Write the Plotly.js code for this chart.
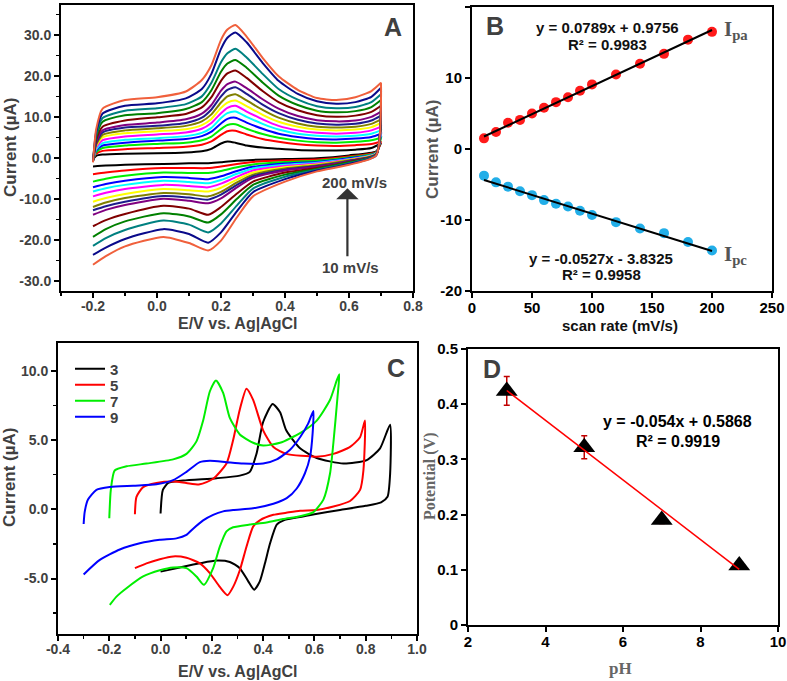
<!DOCTYPE html>
<html><head><meta charset="utf-8">
<script src="https://cdn.plot.ly/plotly-3.0.1.min.js"></script>
<style>html,body{margin:0;padding:0;background:#fff}#chart{width:787px;height:681px}</style>
</head><body><div id="chart"></div>
<script>
// ---------- Panel A : CVs at different scan rates ----------
const cvNames = ['10 mV/s','20 mV/s','30 mV/s','40 mV/s','50 mV/s','60 mV/s','70 mV/s','80 mV/s','90 mV/s','100 mV/s','120 mV/s','140 mV/s','160 mV/s','180 mV/s','200 mV/s'];
const cvColors = ['#000000','#ff0000','#00ee00','#0000ff','#00ffff','#ff00ff','#ffff00','#808000','#1c1c8c','#800080','#800000','#008000','#008080','#0a0a8a','#f0603c'];
const EfA = [-0.2,-0.19,-0.17,-0.1,0.0,0.09,0.14,0.17,0.2,0.22,0.245,0.28,0.33,0.38,0.44,0.5,0.56,0.62,0.67,0.7];
const ErA = [0.7,0.685,0.6,0.5,0.4,0.3,0.25,0.2,0.16,0.1,0.02,-0.1,-0.16,-0.2];
const fwd10  = [-0.3,0.5,0.8,1.0,1.1,1.3,1.6,2.2,3.5,4.0,3.7,3.0,2.5,2.2,1.9,1.8,1.8,2.0,2.4,3.6];
const fwd20  = [-0.4,1.0,1.7,2.1,2.4,2.7,3.2,4.0,5.6,6.5,6.6,5.7,4.6,3.9,3.3,3.0,2.9,3.1,3.4,4.0];
const fwd30  = [-0.5,1.4,2.4,3.0,3.4,3.7,4.3,5.2,7.0,8.0,8.2,7.1,5.8,4.9,4.2,3.8,3.7,3.9,4.3,4.9];
const fwd40  = [-0.5,1.8,3.0,3.7,4.2,4.6,5.3,6.4,8.4,9.5,9.8,8.6,7.1,5.9,5.1,4.6,4.5,4.7,5.1,5.8];
const fwd50  = [-0.6,2.1,3.6,4.4,4.8,5.3,6.1,7.3,9.7,10.9,11.3,10.0,8.3,6.9,5.9,5.4,5.2,5.4,5.9,6.7];
const fwd60  = [-0.6,2.5,4.3,5.2,5.7,6.2,7.1,8.5,10.9,12.2,12.7,11.3,9.4,7.8,6.7,6.1,5.9,6.1,6.7,7.6];
const fwd70  = [-0.7,2.9,5.0,6.0,6.5,7.0,8.0,9.5,12.2,13.5,14.0,12.6,10.5,8.8,7.6,6.9,6.7,6.9,7.5,8.5];
const fwd80  = [-0.7,3.2,5.6,6.7,7.2,7.8,8.9,10.6,13.5,15.0,15.5,14.0,11.7,9.8,8.4,7.6,7.4,7.6,8.3,9.4];
const fwd90  = [-0.8,3.6,6.2,7.4,7.8,8.5,9.8,11.8,15.0,16.6,17.2,15.6,13.0,10.9,9.3,8.4,8.1,8.3,9.1,10.3];
const fwd100 = [-0.8,3.9,6.7,8.0,8.6,9.4,10.8,12.9,16.4,18.0,18.6,17.0,14.3,12.0,10.2,9.2,8.9,9.1,10.0,11.3];
const fwd120 = [-0.9,4.4,7.6,9.1,9.9,10.7,12.3,14.8,18.8,20.6,21.3,19.5,16.3,13.6,11.6,10.4,10.0,10.3,11.2,12.7];
const fwd140 = [-0.9,5.1,8.8,10.4,10.9,11.9,13.6,16.5,21.0,23.0,23.9,22.0,18.4,15.2,12.9,11.5,11.1,11.4,12.4,14.1];
const fwd160 = [-1.0,5.7,9.7,11.5,12.1,13.1,15.0,18.3,23.3,25.5,26.6,24.5,20.5,16.8,14.2,12.6,12.1,12.4,13.6,15.5];
const fwd180 = [-1.0,6.3,10.8,12.7,13.3,14.5,16.8,20.5,26.6,29.3,30.6,28.2,23.2,18.8,15.6,13.8,13.2,13.6,14.9,17.1];
const fwd200 = [-1.1,7.0,12.0,14.1,14.8,16.2,19.0,22.6,28.8,31.3,32.4,29.6,24.4,19.9,16.6,14.6,14.1,14.8,16.3,18.3];
const rev10  = [3.6,1.6,0.6,-0.1,-0.3,-0.5,-0.7,-1.1,-1.3,-1.35,-1.5,-1.7,-1.9,-2.1];
const rev20  = [4.0,1.4,0.3,-0.4,-0.6,-1.0,-1.5,-2.1,-2.5,-2.5,-2.5,-3.1,-3.6,-4.0];
const rev30  = [4.9,1.3,0.1,-0.7,-1.0,-1.6,-2.3,-3.2,-3.7,-3.7,-3.6,-4.4,-5.1,-5.8];
const rev40  = [5.8,1.2,-0.1,-1.0,-1.4,-2.2,-3.2,-4.5,-5.2,-4.9,-4.7,-5.6,-6.4,-7.2];
const rev50  = [6.7,1.1,-0.3,-1.2,-1.7,-2.6,-3.9,-5.4,-6.2,-5.9,-5.6,-6.6,-7.4,-8.2];
const rev60  = [7.6,1.0,-0.4,-1.4,-2.0,-3.1,-4.6,-6.3,-7.2,-6.9,-6.6,-7.6,-8.5,-9.4];
const rev70  = [8.5,1.0,-0.5,-1.6,-2.3,-3.6,-5.3,-7.3,-8.2,-7.9,-7.6,-8.8,-9.8,-10.7];
const rev80  = [9.4,0.9,-0.6,-1.8,-2.6,-4.1,-6.0,-8.3,-9.4,-8.9,-8.6,-9.8,-10.9,-12.0];
const rev90  = [10.3,0.9,-0.75,-2.0,-2.9,-4.5,-6.6,-9.0,-10.2,-9.7,-9.3,-10.7,-11.8,-12.8];
const rev100 = [11.3,0.8,-0.85,-2.2,-3.1,-4.9,-7.2,-9.9,-11.1,-10.5,-10.0,-11.5,-12.7,-13.9];
const rev120 = [12.7,0.8,-1.0,-2.5,-3.6,-5.8,-8.7,-12.0,-13.9,-12.4,-11.7,-13.7,-15.2,-16.7];
const rev140 = [14.1,0.7,-1.1,-2.7,-4.1,-6.6,-10.0,-13.8,-15.8,-14.3,-13.5,-15.5,-17.4,-19.3];
const rev160 = [15.5,0.7,-1.3,-2.9,-4.6,-7.5,-11.6,-16.0,-18.2,-16.3,-15.3,-17.6,-19.6,-21.5];
const rev180 = [17.1,0.6,-1.5,-3.1,-5.2,-8.4,-13.0,-18.2,-20.7,-18.6,-17.4,-19.8,-21.9,-23.7];
const rev200 = [18.3,0.6,-1.7,-3.3,-5.8,-9.4,-14.5,-20.2,-22.6,-20.8,-19.3,-21.6,-24.0,-26.1];
const fwdA = [fwd10,fwd20,fwd30,fwd40,fwd50,fwd60,fwd70,fwd80,fwd90,fwd100,fwd120,fwd140,fwd160,fwd180,fwd200];
const revA = [rev10,rev20,rev30,rev40,rev50,rev60,rev70,rev80,rev90,rev100,rev120,rev140,rev160,rev180,rev200];

// ---------- Panel B : peak currents vs scan rate ----------
const scanRate = [10,20,30,40,50,60,70,80,90,100,120,140,160,180,200];
const Ipa = [1.5,2.4,3.7,4.1,5.0,5.8,6.6,7.3,8.2,9.1,10.5,12.0,13.4,15.4,16.5];
const Ipc = [-3.75,-4.7,-5.3,-5.95,-6.5,-7.2,-7.7,-8.1,-8.7,-9.3,-10.3,-11.2,-11.85,-13.1,-14.3];
const fitRate = [10,200];
const fitIpa = [1.76,16.76];
const fitIpc = [-4.36,-14.37];

// ---------- Panel C : CVs at different pH ----------
const pHNames = ['3','5','7','9'];
const pHColors = ['#000000','#ff0000','#00ee00','#0000ff'];
const cE3 = [0.0,0.009,0.03,0.088,0.218,0.309,0.348,0.374,0.4,0.437,0.466,0.49,0.544,0.609,0.713,0.804,0.856,0.895,
             0.895,0.885,0.86,0.8,0.7,0.6,0.53,0.48,0.453,0.427,0.407,0.387,0.365,0.342,0.309,0.27,0.218,0.153,0.075,0.0];
const cI3 = [-0.3,1.4,1.9,2.07,2.24,2.43,2.7,4.0,6.3,7.6,7.0,5.7,4.4,3.7,3.3,3.55,4.4,6.1,
             2.5,0.9,0.5,0.25,-0.05,-0.35,-0.6,-0.8,-1.1,-2.45,-3.9,-5.2,-5.8,-5.2,-4.25,-3.8,-3.7,-3.9,-4.2,-4.5];
const cE5 = [-0.1,-0.094,-0.068,-0.016,0.05,0.1,0.153,0.205,0.257,0.283,0.309,0.335,0.361,0.4,0.44,0.49,0.609,0.674,0.739,0.778,0.797,
             0.791,0.778,0.739,0.674,0.609,0.544,0.49,0.44,0.387,0.361,0.335,0.309,0.283,0.261,0.231,0.192,0.153,0.101,0.049,-0.003,-0.055,-0.1];
const cI5 = [-0.36,0.9,1.6,1.9,2.0,1.9,1.8,2.2,3.3,5.0,7.2,8.7,7.9,5.7,4.5,4.0,3.8,4.0,4.5,5.2,6.4,
             2.8,1.4,0.6,0.2,-0.05,-0.1,-0.25,-0.4,-0.8,-1.25,-2.7,-4.4,-5.6,-6.2,-5.6,-4.6,-3.9,-3.5,-3.4,-3.6,-3.9,-4.25];
const cE7 = [-0.2,-0.194,-0.179,-0.133,-0.055,0.049,0.101,0.14,0.166,0.192,0.216,0.244,0.27,0.309,0.361,0.4,0.466,0.544,0.609,0.661,0.687,0.697,
             0.69,0.674,0.661,0.635,0.596,0.544,0.478,0.413,0.348,0.283,0.257,0.231,0.205,0.169,0.14,0.101,0.049,-0.003,-0.068,-0.133,-0.172,-0.198];
const cI7 = [-0.65,1.4,2.8,3.1,3.3,3.6,4.0,4.9,6.4,8.5,9.3,8.4,6.6,5.4,4.8,4.6,4.8,5.5,6.4,7.9,9.3,9.75,
             8.1,4.8,2.6,0.7,-0.2,-0.5,-0.7,-0.95,-1.1,-1.3,-1.6,-2.7,-4.25,-5.45,-4.85,-4.25,-4.2,-4.4,-4.85,-5.7,-6.3,-6.9];
const cE9 = [-0.3,-0.296,-0.283,-0.25,-0.198,-0.107,-0.016,0.049,0.101,0.153,0.192,0.257,0.322,0.4,0.453,0.505,0.544,0.576,0.596,
             0.593,0.583,0.563,0.531,0.492,0.44,0.361,0.283,0.244,0.205,0.166,0.127,0.101,0.062,-0.003,-0.081,-0.159,-0.237,-0.3];
const cI9 = [-1.06,-0.2,0.7,1.4,1.6,1.7,1.8,2.1,2.7,3.4,3.5,3.4,3.3,3.3,3.6,4.3,5.2,6.2,7.1,
             5.5,3.8,2.6,1.5,0.8,0.4,0.07,-0.05,-0.15,-0.4,-0.8,-1.4,-1.85,-2.1,-2.2,-2.45,-2.9,-3.65,-4.7];
const cE = [cE3,cE5,cE7,cE9];
const cI = [cI3,cI5,cI7,cI9];

// ---------- Panel D : peak potential vs pH ----------
const pH = [3,5,7,9];
const potential = [0.424,0.322,0.19,0.108];
const potentialErr = [0.026,0.021,0.006,0.006];
const fitPH = [3,9];
const fitPotential = [0.4248,0.1008];

// ---------- tick labels ----------
const tickA_x = [-0.2,0,0.2,0.4,0.6,0.8], tickA_xt = ['-0.2','0.0','0.2','0.4','0.6','0.8'];
const tickA_y = [-30,-20,-10,0,10,20,30], tickA_yt = ['-30.0','-20.0','-10.0','0.0','10.0','20.0','30.0'];
const tickB_y = [-20,-10,0,10,20], tickB_yt = ['-20','-10','0','10','20'];
const tickC_x = [-0.4,-0.2,0,0.2,0.4,0.6,0.8,1.0], tickC_xt = ['-0.4','-0.2','0.0','0.2','0.4','0.6','0.8','1.0'];
const tickC_y = [-5,0,5,10], tickC_yt = ['-5.0','0.0','5.0','10.0'];
const tickD_y = [0,0.1,0.2,0.3,0.4,0.5], tickD_yt = ['0','0.1','0.2','0.3','0.4','0.5'];

const W = 787, H = 681;
const px = v => v / W, py = v => 1 - v / H;
const SANS = 'Liberation Sans, Arial, sans-serif';
const SERIF = 'Liberation Serif, Times New Roman, serif';
const GRAY = '#404040';

const traces = [];
for (let i = 0; i < fwdA.length; i++) {
  traces.push({x: EfA.concat(ErA), y: fwdA[i].concat(revA[i]), name: cvNames[i], type: 'scatter', mode: 'lines',
    line: {color: cvColors[i], width: 2, shape: 'spline', smoothing: 0.6}, xaxis: 'x', yaxis: 'y', showlegend: false});
}
traces.push({x: scanRate, y: Ipa, type: 'scatter', mode: 'markers', marker: {color: '#ff1a1a', size: 10}, xaxis: 'x2', yaxis: 'y2', showlegend: false, name: 'Ipa'});
traces.push({x: scanRate, y: Ipc, type: 'scatter', mode: 'markers', marker: {color: '#22aee8', size: 10}, xaxis: 'x2', yaxis: 'y2', showlegend: false, name: 'Ipc'});
traces.push({x: fitRate, y: fitIpa, type: 'scatter', mode: 'lines', line: {color: '#000', width: 2}, xaxis: 'x2', yaxis: 'y2', showlegend: false});
traces.push({x: fitRate, y: fitIpc, type: 'scatter', mode: 'lines', line: {color: '#000', width: 2}, xaxis: 'x2', yaxis: 'y2', showlegend: false});
const legendYs = [369, 385, 401, 417];
for (let i = 0; i < cE.length; i++) {
  traces.push({x: cE[i], y: cI[i], name: pHNames[i], type: 'scatter', mode: 'lines',
    line: {color: pHColors[i], width: 2, shape: 'spline', smoothing: 0.6}, xaxis: 'x3', yaxis: 'y3',
    legend: i === 0 ? 'legend' : 'legend' + (i + 1)});
}
traces.push({x: pH, y: potential, type: 'scatter', mode: 'markers', marker: {symbol: 'triangle-up', size: 19, color: '#000'},
  error_y: {type: 'data', array: potentialErr, color: '#c00000', thickness: 1.5, width: 3}, xaxis: 'x4', yaxis: 'y4', showlegend: false});
traces.push({x: fitPH, y: fitPotential, type: 'scatter', mode: 'lines', line: {color: '#ff0000', width: 1.5}, xaxis: 'x4', yaxis: 'y4', showlegend: false});

function ax(extra, fontColor, fontSize) {
  return Object.assign({showline: true, linewidth: 2, linecolor: '#000', mirror: true, ticks: 'outside', ticklen: 5, tickwidth: 2,
    tickcolor: '#000', showgrid: false, zeroline: false, fixedrange: true,
    tickfont: {family: SANS, size: fontSize || 14, color: fontColor || GRAY, weight: 'bold'}}, extra);
}

const layout = {
  width: W, height: H, margin: {l: 0, r: 0, t: 0, b: 0}, paper_bgcolor: '#fff', plot_bgcolor: '#fff',
  xaxis: ax({domain: [px(61), px(413)], range: [-0.3, 0.8], tickvals: tickA_x, ticktext: tickA_xt, anchor: 'y', ticklabelstandoff: -4,
    minor: {tickvals: [-0.3,-0.1,0.1,0.3,0.5,0.7], ticks: 'outside', ticklen: 3, tickwidth: 1.5, tickcolor: '#000'}}),
  yaxis: ax({domain: [py(291), py(5)], range: [-32.5, 37.3], tickvals: tickA_y, ticktext: tickA_yt, anchor: 'x',
    minor: {dtick: 5, tick0: 0, ticks: 'outside', ticklen: 3, tickwidth: 1.5, tickcolor: '#000'}}),
  xaxis2: ax({domain: [px(472), px(772)], range: [0, 250], dtick: 50, tick0: 0, anchor: 'y2', ticklabelstandoff: -3}, '#000', 15),
  yaxis2: ax({domain: [py(291), py(7)], range: [-20, 20], tickvals: tickB_y, ticktext: tickB_yt, anchor: 'x2'}, '#000', 15),
  xaxis3: ax({domain: [px(58), px(417)], range: [-0.4, 1.0], tickvals: tickC_x, ticktext: tickC_xt, anchor: 'y3', ticklabelstandoff: -4,
    minor: {dtick: 0.1, tick0: 0, ticks: 'outside', ticklen: 3, tickwidth: 1.5, tickcolor: '#000'}}),
  yaxis3: ax({domain: [py(634), py(343)], range: [-9, 12], tickvals: tickC_y, ticktext: tickC_yt, anchor: 'x3',
    minor: {tickvals: [-7.5,-2.5,2.5,7.5], ticks: 'outside', ticklen: 3, tickwidth: 1.5, tickcolor: '#000'}}),
  xaxis4: ax({domain: [px(468), px(778)], range: [2, 10], dtick: 2, tick0: 0, anchor: 'y4', ticklabelstandoff: -3}, '#000', 15),
  yaxis4: ax({domain: [py(625), py(349)], range: [0, 0.5], tickvals: tickD_y, ticktext: tickD_yt, anchor: 'x4'}, '#000', 15),
  annotations: [],
  showlegend: true
};
// legends for panel C
for (let i = 0; i < 4; i++) {
  const key = i === 0 ? 'legend' : 'legend' + (i + 1);
  layout[key] = {x: px(70), y: py(legendYs[i]), xanchor: 'left', yanchor: 'middle', bgcolor: 'rgba(0,0,0,0)',
    borderwidth: 0, font: {family: SANS, size: 15, color: GRAY, weight: 'bold'}, itemwidth: 30};
}

function txt(text, x, y, size, opts) {
  layout.annotations.push(Object.assign({text: text, x: px(x), y: py(y), xref: 'paper', yref: 'paper', showarrow: false,
    xanchor: 'center', yanchor: 'middle', font: {family: SANS, size: size, color: GRAY, weight: 'bold'}}, opts || {}));
}
// Panel A
txt('A', 393, 27, 25);
txt('200 mV/s', 354, 183, 15);
txt('10 mV/s', 350, 268, 15);
txt('Current (µA)', 10, 147, 17, {textangle: -90});
txt('E/V vs. Ag|AgCl', 237, 323, 16);
layout.annotations.push({x: 0.595, y: -7.4, ax: 0.595, ay: -24.4, xref: 'x', yref: 'y', axref: 'x', ayref: 'y', text: '',
  showarrow: true, arrowhead: 1, arrowsize: 1.7, arrowwidth: 2.2, arrowcolor: '#333'});
// Panel B
txt('B', 495, 26, 25);
txt('y = 0.0789x + 0.9756', 607, 28, 15, {font: {family: SANS, size: 15, color: '#111', weight: 'bold'}});
txt('R² = 0.9983', 607, 45, 15, {font: {family: SANS, size: 15, color: '#111', weight: 'bold'}});
txt('y = -0.0527x - 3.8325', 601, 258, 15, {font: {family: SANS, size: 15, color: '#111', weight: 'bold'}});
txt('R² = 0.9958', 601, 274, 15, {font: {family: SANS, size: 15, color: '#111', weight: 'bold'}});
txt('I<sub>pa</sub>', 722, 30, 21, {xanchor: 'left', font: {family: SERIF, size: 21, color: '#555', weight: 'bold'}});
txt('I<sub>pc</sub>', 722, 255, 21, {xanchor: 'left', font: {family: SERIF, size: 21, color: '#555', weight: 'bold'}});
txt('Current (µA)', 432, 149, 17, {textangle: -90, font: {family: SANS, size: 17, color: '#555', weight: 'bold'}});
txt('scan rate (mV/s)', 620, 326, 15, {font: {family: SANS, size: 15, color: '#111', weight: 'bold'}});
// Panel C
txt('C', 396, 368, 25);
txt('Current (µA)', 9, 477, 17, {textangle: -90});
txt('E/V vs. Ag|AgCl', 237, 671, 16);
// Panel D
txt('D', 492, 369, 25);
txt('y = -0.054x + 0.5868', 677, 421, 16, {font: {family: SANS, size: 16, color: '#000', weight: 'bold'}});
txt('R² = 0.9919', 678, 441, 16, {font: {family: SANS, size: 16, color: '#000', weight: 'bold'}});
txt('Potential (V)', 430, 476, 16, {textangle: -90, font: {family: SERIF, size: 16, color: '#666', weight: 'bold'}});
txt('pH', 620, 668, 17, {font: {family: SERIF, size: 17, color: '#666', weight: 'bold'}});

Plotly.newPlot('chart', traces, layout, {displayModeBar: false, staticPlot: true});
</script></body></html>
